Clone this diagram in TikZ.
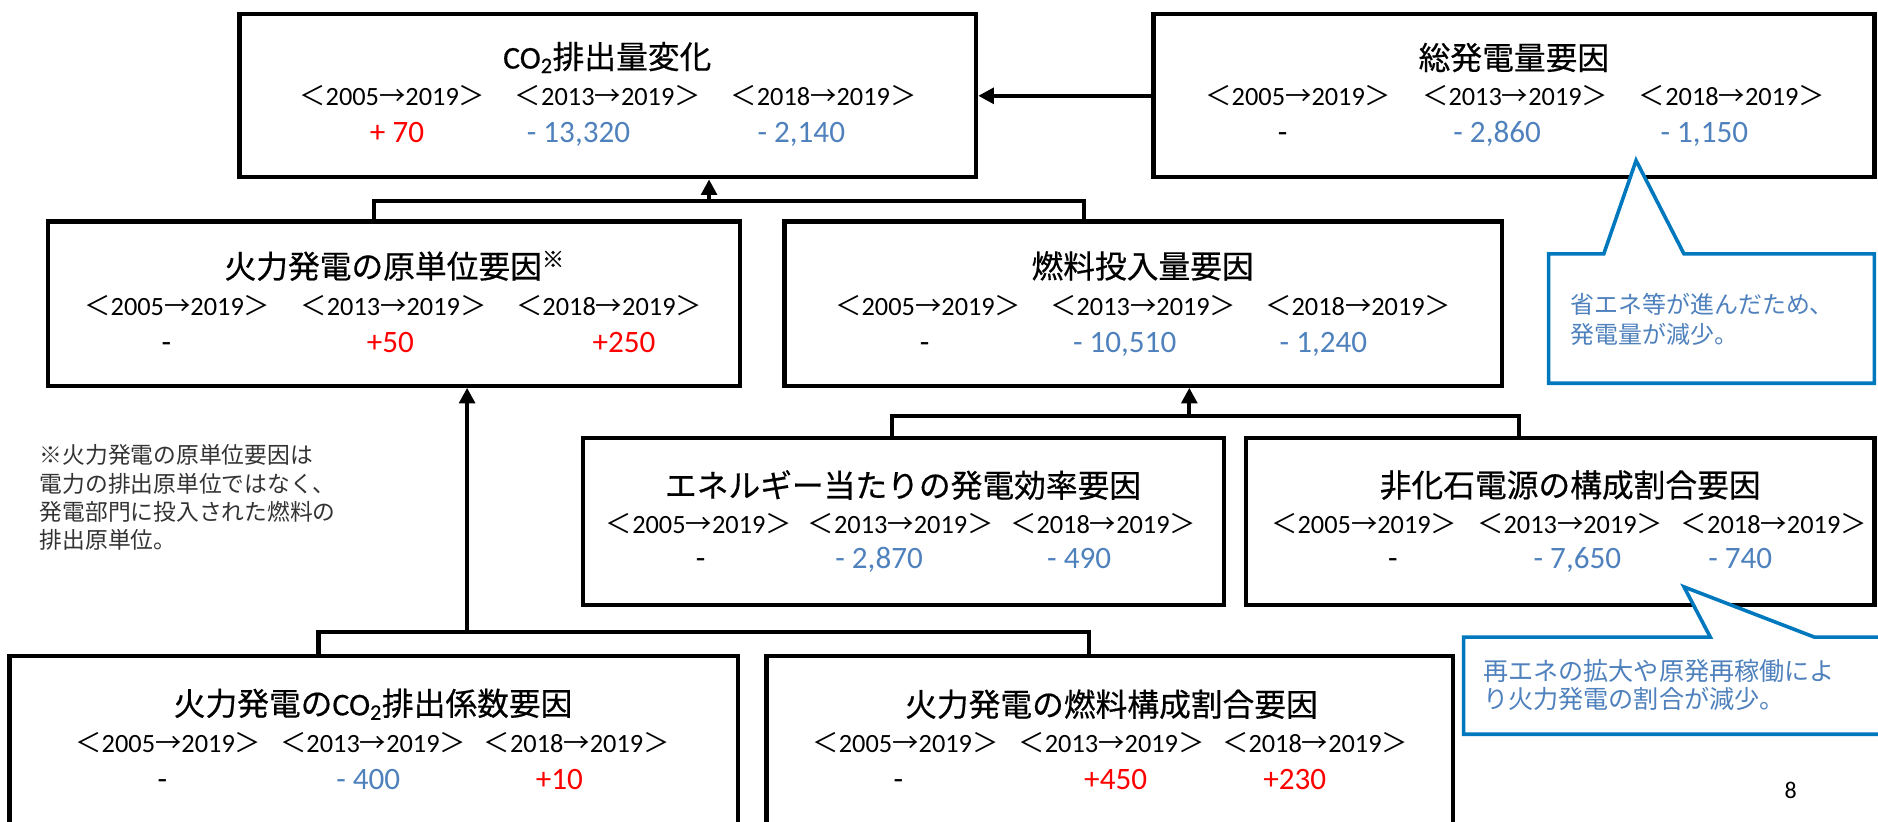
\documentclass[tikz,border=0pt]{standalone}
\usepackage{fontspec}
\setmainfont{Carlito}
\newfontfamily\jp{Noto Sans CJK JP}
\newfontfamily\jpttl[FakeBold=0.5]{Noto Sans CJK JP}
\newfontfamily\lat[FakeBold=0.5]{Carlito}
\usetikzlibrary{arrows.meta}
\definecolor{upred}{RGB}{255,0,0}
\definecolor{downblue}{RGB}{79,129,189}
\definecolor{noteblue}{RGB}{0,120,190}
\newcommand\yrs[1]{{\jp ＜}#1{\jp →}2019{\jp ＞}}
\tikzset{
  factor/.style={draw, line width=3.5pt, inner sep=0pt},
  ttl/.style={font=\fontsize{26.5}{30}\selectfont\jpttl},
  yr/.style={font=\fontsize{22}{26}\selectfont},
  val/.style={font=\fontsize{26}{30}\selectfont, text height=16.5pt, text depth=0pt},
  up/.style={val, text=upred},
  down/.style={val, text=downblue},
  link/.style={line width=3.5pt},
  flow/.style={link, -{Triangle[length=13pt,width=13pt]}},
  bubble/.style={draw=noteblue, line width=3pt, fill=white},
  bubbletext/.style={text=downblue, align=left, anchor=north west, inner sep=0pt},
}
\begin{document}
\begin{tikzpicture}[x=1pt, y=-1pt]
  \useasboundingbox (0,0) rectangle (1568,685.5);

  % top row
  \node[factor, minimum width=615pt, minimum height=136pt] (co2) at (507.5,80) {};
  \node[ttl] (co2t) at (507,48) {{\lat CO\textsubscript{2}}排出量変化};
  \foreach \s/\x in {2005/327.5, 2013/507.5, 2018/687.5}
    \node[yr] (co2y\s) at (\x,80) {\yrs{\s}};
  \node[up] (co2v1) at (331.5,111) {+ 70};
  \node[down] (co2v2) at (483,111) {- 13,320};
  \node[down] (co2v3) at (669,111) {- 2,140};

  \node[factor, minimum width=602pt, minimum height=136pt] (total) at (1264,80) {};
  \node[ttl] (totalt) at (1264,48) {総発電量要因};
  \foreach \s/\x in {2005/1084, 2013/1265, 2018/1446}
    \node[yr] (totaly\s) at (\x,80) {\yrs{\s}};
  \node[val] (totalv1) at (1071,111) {-};
  \node[down] (totalv2) at (1250,111) {- 2,860};
  \node[down] (totalv3) at (1423,111) {- 1,150};

  \draw[flow] (total.west) -- (co2.east);

  % second row
  \node[factor, minimum width=578pt, minimum height=137pt] (unit) at (329,253.5) {};
  \node[ttl] (unitt) at (329.5,222) {火力発電の原単位要因\textsuperscript{※}};
  \foreach \s/\x in {2005/148, 2013/328.5, 2018/508.5}
    \node[yr] (unity\s) at (\x,255) {\yrs{\s}};
  \node[val] (unitv1) at (139,286) {-};
  \node[up] (unitv2) at (326,286) {+50};
  \node[up] (unitv3) at (521,286) {+250};

  \node[factor, minimum width=599pt, minimum height=137pt] (fuel) at (954.5,253.5) {};
  \node[ttl] (fuelt) at (954,222) {燃料投入量要因};
  \foreach \s/\x in {2005/775, 2013/954.5, 2018/1134}
    \node[yr] (fuely\s) at (\x,255) {\yrs{\s}};
  \node[val] (fuelv1) at (772,286) {-};
  \node[down] (fuelv2) at (939,286) {- 10,510};
  \node[down] (fuelv3) at (1105,286) {- 1,240};

  \coordinate (busAL) at (312,168);
  \coordinate (busAR) at (905,168);
  \coordinate (busAM) at (592,168);
  \draw[link] (unit.north -| busAL) -- (busAL) -- (busAR) -- (fuel.north -| busAR);
  \draw[flow] (busAM) -- (co2.south -| busAM);

  % note on the unit factor
  \node[anchor=north west, inner sep=0pt, align=left, text=black!80,
        font=\fontsize{19}{23.7}\selectfont\jp] (note) at (33,371)
    {※火力発電の原単位要因は\\電力の排出原単位ではなく、\\発電部門に投入された燃料の\\排出原単位。};

  % third row
  \node[factor, minimum width=535pt, minimum height=139pt] (eff) at (754.5,435.5) {};
  \node[ttl] (efft) at (754,405) {エネルギー当たりの発電効率要因};
  \foreach \s/\x in {2005/583.5, 2013/752, 2018/921}
    \node[yr] (effy\s) at (\x,437) {\yrs{\s}};
  \node[val] (effv1) at (585,466) {-};
  \node[down] (effv2) at (734,466) {- 2,870};
  \node[down] (effv3) at (901,466) {- 490};

  \node[factor, minimum width=525pt, minimum height=139pt] (nonfossil) at (1302.5,435.5) {};
  \node[ttl] (nonfossilt) at (1311,405) {非化石電源の構成割合要因};
  \foreach \s/\x in {2005/1139, 2013/1311, 2018/1481}
    \node[yr] (nonfossily\s) at (\x,437) {\yrs{\s}};
  \node[val] (nonfossilv1) at (1163,466) {-};
  \node[down] (nonfossilv2) at (1317,466) {- 7,650};
  \node[down] (nonfossilv3) at (1453,466) {- 740};

  \coordinate (busBL) at (745,347);
  \coordinate (busBR) at (1268,347);
  \coordinate (busBM) at (993,347);
  \draw[link] (eff.north -| busBL) -- (busBL) -- (busBR) -- (nonfossil.north -| busBR);
  \draw[flow] (busBM) -- (fuel.south -| busBM);

  % bottom row
  \node[factor, minimum width=608pt, minimum height=154pt] (coef) at (312,625) {};
  \node[ttl] (coeft) at (311.5,588) {火力発電の{\lat CO\textsubscript{2}}排出係数要因};
  \foreach \s/\x in {2005/140.5, 2013/311.5, 2018/481.5}
    \node[yr] (coefy\s) at (\x,620) {\yrs{\s}};
  \node[val] (coefv1) at (135.5,651) {-};
  \node[down] (coefv2) at (307.5,651) {- 400};
  \node[up] (coefv3) at (467,651) {+10};

  \node[factor, minimum width=573pt, minimum height=154pt] (mix) at (926.5,625) {};
  \node[ttl] (mixt) at (928,588) {火力発電の燃料構成割合要因};
  \foreach \s/\x in {2005/756, 2013/928, 2018/1098}
    \node[yr] (mixy\s) at (\x,620) {\yrs{\s}};
  \node[val] (mixv1) at (750,651) {-};
  \node[up] (mixv2) at (931.5,651) {+450};
  \node[up] (mixv3) at (1081,651) {+230};

  \coordinate (busCL) at (266,528);
  \coordinate (busCR) at (909,528);
  \coordinate (busCM) at (390,528);
  \draw[link] (coef.north -| busCL) -- (busCL) -- (busCR) -- (mix.north -| busCR);
  \draw[flow] (busCM) -- (unit.south -| busCM);

  % callouts
  \draw[bubble] (1293,212) -- (1339,212) -- (1366,134) -- (1406,212) -- (1565,212)
    -- (1565,320) -- (1293,320) -- cycle;
  \node[bubbletext, font=\fontsize{20}{25}\selectfont\jp] (saving) at (1311,245)
    {省エネ等が進んだため、\\発電量が減少。};

  \draw[bubble] (1222,532) -- (1428,532) -- (1406,490) -- (1515,532) -- (1585,532)
    -- (1585,613) -- (1222,613) -- cycle;
  \node[bubbletext, font=\fontsize{21}{24}\selectfont\jp] (renew) at (1238,550)
    {再エネの拡大や原発再稼働によ\\り火力発電の割合が減少。};

  \node[font=\fontsize{20}{24}\selectfont] (page) at (1495,660) {8};
\end{tikzpicture}
\end{document}
